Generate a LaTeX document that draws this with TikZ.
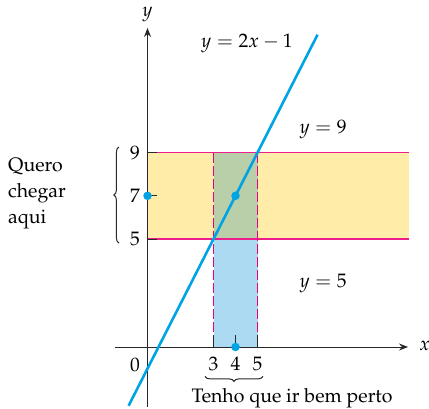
\documentclass[tikz,border=0pt]{standalone}
\usepackage[T1]{fontenc}
\usepackage{mathpazo}
\usetikzlibrary{arrows.meta,decorations.pathreplacing}
\definecolor{bandyellow}{RGB}{254,236,168}
\definecolor{bandgreen}{RGB}{184,207,170}
\definecolor{bandblue}{RGB}{172,218,242}
\definecolor{linecyan}{RGB}{0,163,228}
\definecolor{magline}{RGB}{236,30,140}
\definecolor{dashpink}{RGB}{232,0,130}
\definecolor{axisgray}{RGB}{40,40,40}
\begin{document}
\begin{tikzpicture}[x=22pt,y=21.6pt,
  every node/.style={font=\fontsize{19.5}{26}\selectfont, text=black, inner sep=0pt},
  axisline/.style={axisgray, line width=0.8pt, -{Stealth[length=9pt,width=7pt,inset=3pt]}},
  tickline/.style={axisgray, line width=0.8pt},
  bandedge/.style={magline, line width=1.1pt},
  dashseg/.style={draw=dashpink, line width=1.8pt, dash pattern=on 10pt off 3pt},
  graphline/.style={linecyan, line width=2.6pt},
  dot/.style={circle, fill=linecyan, minimum size=8.5pt, inner sep=0pt},
  bracestyle/.style={axisgray, line width=1pt, decorate, decoration={brace, amplitude=5pt}}]
\useasboundingbox (-6.705,-2.870) rectangle (12.795,16.065);
% fills
\fill[bandyellow] (0,5) rectangle (11.89,9);
\fill[bandgreen] (3,5) rectangle (5,9);
\fill[bandblue] (3,0) rectangle (5,5);
% band edges
\draw[bandedge] (0,9) -- (11.89,9);
\draw[bandedge] (0,5) -- (11.89,5);
% dashed verticals
\coordinate (d3a) at (3,9);
\coordinate (d3b) at (3,0.55);
\coordinate (d5a) at (5,9);
\coordinate (d5b) at (5,0.55);
\draw[dashseg] (d3a) -- (d3b);
\draw[dashseg] (d5a) -- (d5b);
% axes
\coordinate (xs) at (-1.48,0);
\coordinate (xe) at (11.84,0);
\coordinate (ys) at (0,-2.78);
\coordinate (ye) at (0,14.77);
\draw[axisline] (xs) -- (xe);
\draw[axisline] (ys) -- (ye);
\node (xlab) at (12.6,0.05) {$x$};
\node (ylab) at (0,15.4) {$y$};
% ticks
\foreach \v in {5,7,9} {\draw[tickline] (0,\v) -- (0.45,\v);}
\foreach \u in {3,4,5} {\draw[tickline] (\u,0) -- (\u,0.55);}
% tick labels
\node (l9) at (-0.57,9.0) {9};
\node (l7) at (-0.57,7.0) {7};
\node (l5) at (-0.57,5.0) {5};
\node (l0) at (-0.57,-0.83) {0};
\node (l3) at (3,-0.78) {3};
\node (l4) at (4,-0.78) {4};
\node (l5x) at (5,-0.78) {5};
% graph line
\coordinate (g1) at (-0.86,-2.72);
\coordinate (g2) at (7.73,14.46);
\draw[graphline] (g1) -- (g2);
% dots
\node[dot] (p47) at (4,7) {};
\node[dot] (p07) at (0,7) {};
\node[dot] (p40) at (4,0) {};
% labels
\node (eq) at (4.52,14.07) {$y = 2x - 1$};
\node (eq9) at (7.98,10.05) {$y = 9$};
\node (eq5) at (7.98,2.96) {$y = 5$};
% braces
\coordinate (b1) at (-1.3,4.81);
\coordinate (b2) at (-1.3,9.26);
\draw[bracestyle] (b1) -- (b2);
\coordinate (b3) at (5.25,-1.36);
\coordinate (b4) at (2.61,-1.36);
\draw[bracestyle] (b3) -- (b4);
\node[anchor=west, align=left] (want) at (-6.34,7.13) {Quero\\chegar\\aqui};
\node (near) at (6.57,-2.38) {Tenho que ir bem perto};
\end{tikzpicture}
\end{document}
